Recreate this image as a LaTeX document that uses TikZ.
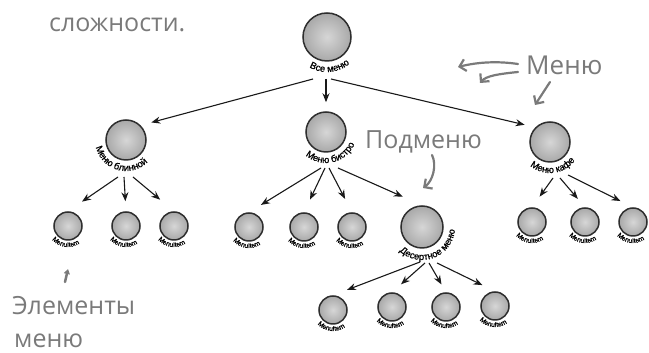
\documentclass[tikz,border=0pt]{standalone}
\usepackage{fontspec}
\setmainfont{Liberation Sans}
\newfontfamily\handfont{Open Sans}
\newfontfamily\lblfont[FakeBold=0.9]{Liberation Sans}
\usetikzlibrary{arrows.meta,decorations.text}
\definecolor{annot}{HTML}{7A7A7A}
\definecolor{edgec}{HTML}{2E2E2E}
\newcommand\midlbl{\lblfont\fontsize{9.5}{10}\selectfont}
\newcommand\leaflbl{\lblfont\fontsize{6.8}{7}\selectfont}
\newcommand\arclabel[5]{%
  \path[decorate, decoration={text along path, text={#5}, text align=center}]
    ([shift={(#2-#4:#3)}]#1.center) arc[start angle=#2-#4, end angle=#2+#4, radius=#3];}
\tikzset{
  ball/.style={circle, draw=edgec, line width=1.5pt, inner color=gray!32, outer color=gray!68, inner sep=0pt},
  bigball/.style={ball, minimum size=48pt},
  midball/.style={ball, minimum size=40pt},
  leafball/.style={ball, minimum size=28pt},
  conn/.style={-{Stealth[length=9pt,width=7pt]}, line width=1.1pt, black!90},
  note/.style={font=\handfont\fontsize{25}{28}\selectfont, text=annot, inner sep=0pt, anchor=base west},
  notearrow/.style={annot, line width=2.2pt, line cap=round, line join=round, -{Straight Barb[length=6pt,width=12pt]}},
}
\begin{document}
\begin{tikzpicture}[x=1pt,y=1pt]
\useasboundingbox (0,0) rectangle (649,353);
% nodes
\node[bigball] (root) at (327,316) {};
\node[midball] (A) at (126,213) {};
\node[midball] (B) at (326,221) {};
\node[midball] (C) at (550,211) {};
\node[ball, minimum size=42pt] (D) at (422,126) {};
\node[leafball] (a1) at (68,127) {};
\node[leafball] (a2) at (126,127) {};
\node[leafball] (a3) at (174,127) {};
\node[leafball] (b1) at (249,126) {};
\node[leafball] (b2) at (304,126) {};
\node[leafball] (b3) at (352,126) {};
\node[leafball] (c1) at (532,131) {};
\node[leafball] (c2) at (585,131) {};
\node[leafball] (c3) at (633,131) {};
\node[leafball] (d1) at (333,43) {};
\node[leafball] (d2) at (392,46) {};
\node[leafball] (d3) at (446,46) {};
\node[leafball] (d4) at (495,47) {};
% labels
\arclabel{root}{275}{35}{75}{|\midlbl|Все меню}
\arclabel{A}{254}{31}{85}{|\midlbl|Меню блинной}
\arclabel{B}{283}{31}{85}{|\midlbl|Меню бистро}
\arclabel{C}{277}{31}{85}{|\midlbl|Меню кафе}
\arclabel{D}{291}{33}{90}{|\midlbl|Десертное меню}
\foreach \n in {a1,a2,a3,b1,b2,b3,c1,c2,c3}{\arclabel{\n}{262}{21}{80}{|\leaflbl|MenuItem}}
\foreach \n in {d1,d2,d3,d4}{\arclabel{\n}{264}{21}{80}{|\leaflbl|MenuItem}}
% out points
\coordinate (rL) at (313,274); \coordinate (rM) at (326,274); \coordinate (rR) at (331,274);
\coordinate (aL) at (118,176); \coordinate (aM) at (124,176); \coordinate (aR) at (133,176);
\coordinate (bL) at (321,185); \coordinate (bM) at (325,185); \coordinate (bN) at (329,185); \coordinate (bR) at (338,185);
\coordinate (cL) at (553,175); \coordinate (cM) at (560,175); \coordinate (cR) at (568,178);
\coordinate (dL) at (420,91); \coordinate (dM) at (425,90); \coordinate (dN) at (429,90); \coordinate (dR) at (437,90);
% connectors
\draw[conn, shorten >=11pt] (rL) -- (A.45);
\draw[conn, shorten >=9pt] (rM) -- (B);
\draw[conn, shorten >=11pt] (rR) -- (C.135);
\draw[conn, shorten >=17pt] (aL) -- (a1.north);
\draw[conn, shorten >=10pt] (aM) -- (a2.north);
\draw[conn, shorten >=18pt] (aR) -- (a3.north);
\draw[conn, shorten >=14pt] (bL) -- (b1.north);
\draw[conn, shorten >=14pt] (bM) -- (b2.north);
\draw[conn, shorten >=15pt] (bN) -- (b3.north);
\draw[conn, shorten >=21pt] (bR) -- (D.north);
\draw[conn, shorten >=13pt] (cL) -- (c1.north);
\draw[conn, shorten >=11pt] (cM) -- (c2.north);
\draw[conn, shorten >=14pt] (cR) -- (c3.north);
\draw[conn, shorten >=15pt] (dL) -- (d1.north);
\draw[conn, shorten >=12pt] (dM) -- (d2.north);
\draw[conn, shorten >=9pt] (dN) -- (d3.north);
\draw[conn, shorten >=14pt] (dR) -- (d4.north);
% annotations
\node[note] (tslozh) at (49,321) {сложности.};
\node[note, font=\handfont\fontsize{26}{28}\selectfont] (tmenu) at (526,278) {Меню};
\node[note] (tsub) at (365,204) {Подменю};
\node[note] (telem1) at (12,38) {Элементы};
\node[note] (telem2) at (14,5) {меню};
\coordinate (m1s) at (518,289); \coordinate (m1e) at (458,286);
\coordinate (m2s) at (518,281); \coordinate (m2e) at (480,270);
\coordinate (m3s) at (550,271); \coordinate (m3e) at (535,248);
\coordinate (s1s) at (432,198); \coordinate (s1e) at (423,165);
\coordinate (e1s) at (65,71); \coordinate (e1e) at (68,84);
\draw[notearrow] (m1s) .. controls (498,292) and (478,291) .. (m1e);
\draw[notearrow] (m2s) .. controls (498,279) and (486,277) .. (m2e);
\draw[notearrow] (m3s) -- (m3e);
\draw[notearrow] (s1s) .. controls (437,188) and (433,172) .. (s1e);
\draw[annot, line width=2.5pt, line cap=round, -{Triangle[length=5pt,width=6pt]}] (e1s) -- (e1e);
\end{tikzpicture}
\end{document}
